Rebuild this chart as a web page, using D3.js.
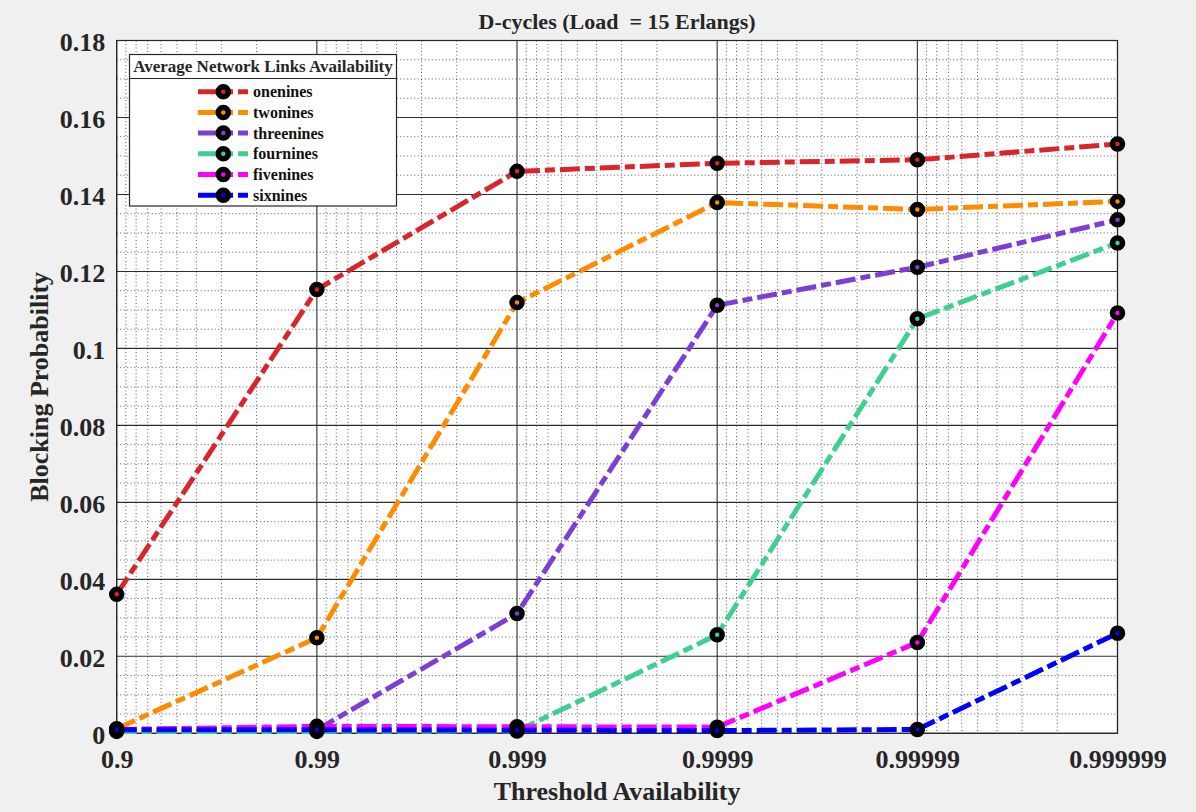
<!DOCTYPE html>
<html>
<head>
<meta charset="utf-8">
<script src="https://cdn.jsdelivr.net/npm/d3@7"></script>
<style>
  html, body { margin: 0; padding: 0; background: #f0f0f0; }
  svg { display: block; font-family: "Liberation Serif", "Times New Roman", serif; font-weight: bold; }
</style>
</head>
<body>
<script>
/* D-cycles blocking probability vs threshold availability. */
'use strict';

// x categories (threshold availability), spaced on a log scale of 1 - a
const thresholds = ["0.9", "0.99", "0.999", "0.9999", "0.99999", "0.999999"];

// one series per average link availability
const seriesNames = ["onenines", "twonines", "threenines", "fournines", "fivenines", "sixnines"];
const seriesColors = ["#d9262b", "#ff8c00", "#7c3fd4", "#3fcf8e", "#ff00ff", "#0000ff"];

const onenines   = [0.0361, 0.1153, 0.1460, 0.1481, 0.1490, 0.1531];
const twonines   = [0.0012, 0.0248, 0.1119, 0.1379, 0.1361, 0.1382];
const threenines = [0.0008, 0.0009, 0.0311, 0.1112, 0.1211, 0.1334];
const fournines  = [0.0005, 0.0005, 0.0006, 0.0256, 0.1077, 0.1274];
const fivenines  = [0.0010, 0.0018, 0.0017, 0.0016, 0.0236, 0.1092];
const sixnines   = [0.0009, 0.0009, 0.0008, 0.0007, 0.0010, 0.0260];

const seriesValues = [onenines, twonines, threenines, fournines, fivenines, sixnines];

const yTicks = [0, 0.02, 0.04, 0.06, 0.08, 0.1, 0.12, 0.14, 0.16, 0.18];
const yTickLabels = ["0", "0.02", "0.04", "0.06", "0.08", "0.1", "0.12", "0.14", "0.16", "0.18"];

const titleText = "D-cycles (Load  = 15 Erlangs)";
const xLabel = "Threshold Availability";
const yLabel = "Blocking Probability";
const legendTitle = "Average Network Links Availability";

// ---------------------------------------------------------------------------

const width = 1196;
const height = 812;
const margin = { top: 40.5, right: 78.5, bottom: 78.7, left: 116.7 };
const innerW = width - margin.left - margin.right;
const innerH = height - margin.top - margin.bottom;

const svg = d3.select("body")
  .append("svg")
    .attr("width", width)
    .attr("height", height);

svg.append("rect")
  .attr("width", width)
  .attr("height", height)
  .attr("fill", "#f0f0f0");

// 1 - availability, plotted on a reversed log axis
const complement = thresholds.map((t) => 1 - (+t));

const x = d3.scaleLog()
  .domain([complement[0], complement[complement.length - 1]])
  .range([margin.left, width - margin.right]);

const y = d3.scaleLinear()
  .domain([0, 0.18])
  .range([height - margin.bottom, margin.top]);

// plot area
svg.append("rect")
  .attr("x", margin.left)
  .attr("y", margin.top)
  .attr("width", innerW)
  .attr("height", innerH)
  .attr("fill", "#ffffff");

// minor grid: log-decade subdivisions on x, 0.005 steps on y
const xMinor = [];
for (let e = 2; e <= 6; e++) {
  for (let k = 2; k <= 9; k++) {
    xMinor.push(k * Math.pow(10, -e));
  }
}
const yMinor = d3.range(1, 36).filter((i) => i % 4 !== 0).map((i) => i * 0.005);

const grid = svg.append("g").attr("class", "grid");
const minorColor = "#5a5a5a";

grid.selectAll(".xminor")
  .data(xMinor)
  .enter()
  .append("line")
    .attr("class", "xminor")
    .attr("x1", (d) => x(d))
    .attr("x2", (d) => x(d))
    .attr("y1", margin.top)
    .attr("y2", height - margin.bottom)
    .attr("stroke", minorColor)
    .attr("stroke-width", 1)
    .attr("stroke-dasharray", "1,2.5");

grid.selectAll(".yminor")
  .data(yMinor)
  .enter()
  .append("line")
    .attr("class", "yminor")
    .attr("x1", margin.left)
    .attr("x2", width - margin.right)
    .attr("y1", (d) => y(d))
    .attr("y2", (d) => y(d))
    .attr("stroke", minorColor)
    .attr("stroke-width", 1)
    .attr("stroke-dasharray", "1,2.5");

// major grid
grid.selectAll(".xmajor")
  .data(complement)
  .enter()
  .append("line")
    .attr("class", "xmajor")
    .attr("x1", (d) => x(d))
    .attr("x2", (d) => x(d))
    .attr("y1", margin.top)
    .attr("y2", height - margin.bottom)
    .attr("stroke", "#2e2e2e")
    .attr("stroke-width", 1.1);

grid.selectAll(".ymajor")
  .data(yTicks)
  .enter()
  .append("line")
    .attr("class", "ymajor")
    .attr("x1", margin.left)
    .attr("x2", width - margin.right)
    .attr("y1", (d) => y(d))
    .attr("y2", (d) => y(d))
    .attr("stroke", "#2e2e2e")
    .attr("stroke-width", 1.1);

// axes (labels only, grid does the rest)
const xAxis = svg.append("g")
  .attr("transform", `translate(0,${height - margin.bottom})`)
  .call(d3.axisBottom(x)
    .tickValues(complement)
    .tickFormat((d, i) => thresholds[i])
    .tickSize(0)
    .tickPadding(16));

const yAxis = svg.append("g")
  .attr("transform", `translate(${margin.left},0)`)
  .call(d3.axisLeft(y)
    .tickValues(yTicks)
    .tickFormat((d, i) => yTickLabels[i])
    .tickSize(0)
    .tickPadding(11.5));

[xAxis, yAxis].forEach((g) => {
  g.select(".domain").remove();
  g.selectAll("text")
    .attr("fill", "#262626")
    .style("font-family", "'Liberation Serif', serif")
    .style("font-weight", "bold")
    .style("font-size", "26px");
});
yAxis.selectAll("text").attr("dy", "0.38em");

// plot border
svg.append("rect")
  .attr("x", margin.left)
  .attr("y", margin.top)
  .attr("width", innerW)
  .attr("height", innerH)
  .attr("fill", "none")
  .attr("stroke", "#262626")
  .attr("stroke-width", 1.2);

// series
const line = d3.line()
  .x((d, i) => x(complement[i]))
  .y((d) => y(d));

const dash = "20,5,10,5";

seriesValues.forEach((vals, s) => {
  const g = svg.append("g").attr("class", `series ${seriesNames[s]}`);

  g.append("path")
    .datum(vals)
    .attr("d", line)
    .attr("fill", "none")
    .attr("stroke", seriesColors[s])
    .attr("stroke-width", 5)
    .attr("stroke-dasharray", dash);

  g.selectAll("circle")
    .data(vals)
    .enter()
    .append("circle")
      .attr("cx", (d, i) => x(complement[i]))
      .attr("cy", (d) => y(d))
      .attr("r", 5)
      .attr("fill", seriesColors[s])
      .attr("stroke", "#000000")
      .attr("stroke-width", 5.5);
});

// title and axis labels
svg.append("text")
  .attr("x", margin.left + innerW / 2)
  .attr("y", 29)
  .attr("text-anchor", "middle")
  .attr("fill", "#262626")
  .style("font-size", "22px")
  .style("white-space", "pre")
  .text(titleText);

svg.append("text")
  .attr("x", margin.left + innerW / 2)
  .attr("y", 800)
  .attr("text-anchor", "middle")
  .attr("fill", "#262626")
  .style("font-size", "26px")
  .text(xLabel);

svg.append("text")
  .attr("transform", `translate(48,${margin.top + innerH / 2}) rotate(-90)`)
  .attr("text-anchor", "middle")
  .attr("fill", "#262626")
  .style("font-size", "26px")
  .text(yLabel);

// legend
const legend = svg.append("g").attr("class", "legend");
const lgX = 129.5, lgY = 54.5, lgW = 267, lgH = 151.5;

legend.append("rect")
  .attr("x", lgX)
  .attr("y", lgY)
  .attr("width", lgW)
  .attr("height", lgH)
  .attr("fill", "#ffffff")
  .attr("stroke", "#262626")
  .attr("stroke-width", 1.2);

legend.append("line")
  .attr("x1", lgX)
  .attr("x2", lgX + lgW)
  .attr("y1", 78.5)
  .attr("y2", 78.5)
  .attr("stroke", "#262626")
  .attr("stroke-width", 1.2);

legend.append("text")
  .attr("x", lgX + lgW / 2)
  .attr("y", 72)
  .attr("text-anchor", "middle")
  .attr("fill", "#262626")
  .style("font-size", "17px")
  .text(legendTitle);

const rowY = (i) => 91.7 + i * 20.7;

const rows = legend.selectAll(".row")
  .data(seriesNames)
  .enter()
  .append("g")
    .attr("class", "row")
    .attr("transform", (d, i) => `translate(0,${rowY(i)})`);

rows.append("line")
  .attr("x1", 198)
  .attr("x2", 248)
  .attr("stroke", (d, i) => seriesColors[i])
  .attr("stroke-width", 5)
  .attr("stroke-dasharray", dash);

rows.append("circle")
  .attr("cx", 223.3)
  .attr("r", 5)
  .attr("fill", (d, i) => seriesColors[i])
  .attr("stroke", "#000000")
  .attr("stroke-width", 5.5);

rows.append("text")
  .attr("x", 253)
  .attr("y", 5.5)
  .attr("fill", "#111111")
  .style("font-size", "16px")
  .text((d) => d);
</script>
</body>
</html>
